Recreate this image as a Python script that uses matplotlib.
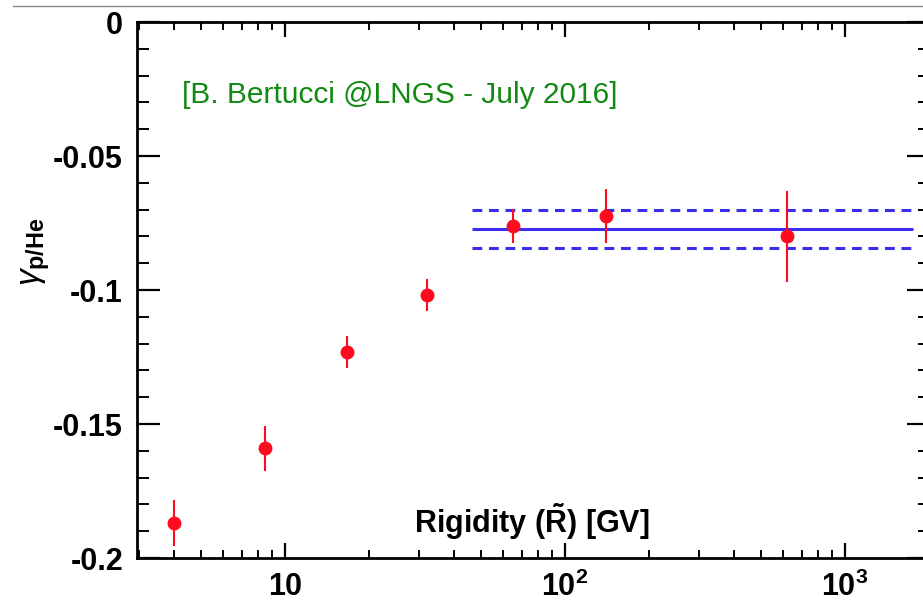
import numpy as np
import matplotlib
matplotlib.use("Agg")
import matplotlib.pyplot as plt
from matplotlib.ticker import FixedLocator, FixedFormatter, LogLocator, NullFormatter, MultipleLocator

plt.rcParams['font.family'] = ['Liberation Sans', 'DejaVu Sans']
plt.rcParams['mathtext.fontset'] = 'custom'
plt.rcParams['mathtext.rm'] = 'Liberation Sans'
plt.rcParams['mathtext.bf'] = 'Liberation Sans:bold'
plt.rcParams['mathtext.it'] = 'Liberation Sans:italic'

# data
rigidity = [4.0, 8.5, 16.6, 32.1, 65.2, 140.0, 621.0]
gamma = [-0.187, -0.159, -0.123, -0.102, -0.076, -0.0724, -0.080]
gamma_err = [0.0086, 0.0084, 0.006, 0.006, 0.0064, 0.010, 0.017]
fit_range = [46.5, 1750.0]
fit_value = -0.0772
fit_err = 0.0071
xtick_vals = [10, 100, 1000]
xtick_labels = [r'$\mathbf{10}$', r'$\mathbf{10^{2}}$', r'$\mathbf{10^{3}}$']
ytick_vals = [0, -0.05, -0.1, -0.15, -0.2]
ytick_labels = ['0', '-0.05', '-0.1', '-0.15', '-0.2']

W, H = 923, 607
fig = plt.figure(figsize=(W / 100, H / 100), dpi=100)
ax = fig.add_axes([137 / W, (H - 558) / H, (930 - 137) / W, (558 - 22) / H])

ax.set_xscale('log')
ax.set_xlim(2.96, 2010)
ax.set_ylim(-0.2, 0)

# fit band
ax.plot(fit_range, [fit_value, fit_value], color='#3a2cf0', lw=2.2, solid_capstyle='butt')
for s in (1, -1):
    ax.plot(fit_range, [fit_value + s * fit_err] * 2, color='#3a2cf0', lw=2.2,
            linestyle=(0, (3.2, 2.2)), dash_capstyle='butt')

ax.errorbar(rigidity, gamma, yerr=gamma_err, fmt='o', color='#ff0a1e', ms=9,
            elinewidth=1.5, capsize=0, zorder=5)

# ticks
ax.xaxis.set_major_locator(FixedLocator(xtick_vals))
ax.xaxis.set_major_formatter(FixedFormatter(xtick_labels))
ax.xaxis.set_minor_locator(LogLocator(base=10, subs=np.arange(2, 10)))
ax.xaxis.set_minor_formatter(NullFormatter())
ax.yaxis.set_major_locator(FixedLocator(ytick_vals))
ax.yaxis.set_major_formatter(FixedFormatter(ytick_labels))
ax.yaxis.set_minor_locator(MultipleLocator(0.01))

ax.tick_params(axis='x', which='major', direction='in', length=11, width=1.6,
               top=True, bottom=True, labelsize=22, pad=10)
ax.tick_params(axis='x', which='minor', direction='in', length=5.5, width=1.4,
               top=True, bottom=True)
ax.tick_params(axis='y', which='major', direction='in', length=16.5, width=1.6,
               left=True, right=True, labelsize=22, pad=10)
ax.tick_params(axis='y', which='minor', direction='in', length=8.5, width=1.4,
               left=True, right=True)
for lab in ax.get_yticklabels():
    lab.set_fontweight('bold')

for sp in ax.spines.values():
    sp.set_linewidth(2.0)

ax.text(532, H - 522, r'Rigidity ($\mathbf{\tilde{R}}$) [GV]', transform=None,
        ha='center', va='center', fontsize=22, fontweight='bold')
ax.text(182, H - 95, '[B. Bertucci @LNGS - July 2016]', transform=None,
        ha='left', va='center', fontsize=21.5, color='#118a11')

fig.text(36 / W, (H - 252) / H, r'$\gamma_{\mathbf{p/He}}$', rotation=90,
         ha='center', va='center', fontsize=24)

fig.add_artist(plt.Line2D([13 / W, 1], [1 - 6 / H, 1 - 6 / H], color='#888888', lw=1.0))

fig.savefig('out.png', dpi=100)
